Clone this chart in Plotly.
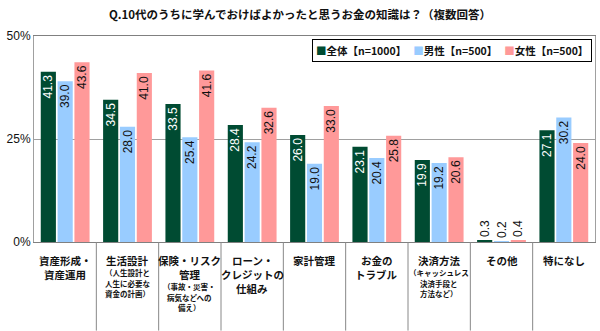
import plotly.graph_objects as go

# each category label: list of (line text, is_sub)
category_lines = [
    [("資産形成・", False), ("資産運用", False)],
    [("生活設計", False), ("（人生設計と", True), ("人生に必要な", True), ("資金の計画）", True)],
    [("保険・リスク", False), ("管理", False), ("（事故・災害・", True), ("病気などへの", True), ("備え）", True)],
    [("ローン・", False), ("クレジットの", False), ("仕組み", False)],
    [("家計管理", False)],
    [("お金の", False), ("トラブル", False)],
    [("決済方法", False), ("（キャッシュレス", True), ("決済手段と", True), ("方法など）", True)],
    [("その他", False)],
    [("特になし", False)],
]
series_names = ["全体【n=1000】", "男性【n=500】", "女性【n=500】"]
total = [41.3, 34.5, 33.5, 28.4, 26.0, 23.1, 19.9, 0.3, 27.1]
male = [39.0, 28.0, 25.4, 24.2, 19.0, 20.4, 19.2, 0.2, 30.2]
female = [43.6, 41.0, 41.6, 32.6, 33.0, 25.8, 20.6, 0.4, 24.0]
colors = ["#004B32", "#99CCFF", "#FF9999"]
inside_colors = ["white", "#111111", "#111111"]

n_cat = len(category_lines)
x = list(range(n_cat))
fig = go.Figure()
for name, vals, c, ic in zip(series_names, [total, male, female], colors, inside_colors):
    fig.add_trace(go.Bar(
        x=x, y=vals, name=name, marker=dict(color=c, line=dict(width=0)),
        text=[f"{v:.1f}" for v in vals],
        textposition=["inside" if v > 5 else "outside" for v in vals],
        insidetextanchor="end", textangle=-90,
        insidetextfont=dict(color=ic, size=12, family="Liberation Sans"),
        outsidetextfont=dict(color="#111111", size=12, family="Liberation Sans"),
        cliponaxis=False, showlegend=False,
    ))

shapes = []
for i in range(n_cat - 1):
    shapes.append(dict(type="line", xref="x", yref="paper", x0=i + 0.5, x1=i + 0.5,
                       y0=0, y1=-0.43, line=dict(color="#888888", width=1)))

annotations = []
for i, lines in enumerate(category_lines):
    offset = 10
    for text, sub in lines:
        size = 7.5 if sub else 10.5
        step = 10.5 if sub else 14
        annotations.append(dict(text=f"<b>{text}</b>", xref="x", yref="paper", x=i, y=0,
                                xanchor="center", yanchor="top", yshift=-offset,
                                showarrow=False, borderpad=0,
                                font=dict(size=size, family="Noto Sans CJK JP", color="#111111")))
        offset += step

legend_text = "&nbsp;&nbsp;&nbsp;".join(
    f"<span style='color:{c}'>■</span><b>{n}</b>" for n, c in zip(series_names, colors))
annotations.append(dict(text=legend_text, xref="paper", yref="paper", x=0.745, y=0.932,
                        xanchor="center", yanchor="middle", showarrow=False,
                        bordercolor="#000000", borderwidth=1, bgcolor="white",
                        borderpad=3, font=dict(size=10.5, family="Noto Sans CJK JP")))

fig.update_layout(
    width=600, height=331,
    margin=dict(l=34, r=5, t=36, b=89),
    paper_bgcolor="white", plot_bgcolor="white",
    font=dict(family="Noto Sans CJK JP, Liberation Sans", color="#111111"),
    title=dict(text="<b>Q.10代のうちに学んでおけばよかったと思うお金の知識は？（複数回答）</b>",
               x=0.5, xanchor="center", y=0.955, yanchor="middle",
               font=dict(size=11.5)),
    barmode="group", bargap=0.19, bargroupgap=0.1,
    uniformtext=dict(minsize=11, mode="show"),
    showlegend=False,
    shapes=shapes,
    annotations=annotations,
)
fig.update_xaxes(tickmode="array", tickvals=x, showticklabels=False,
                 range=[-0.5, n_cat - 0.5], showline=True, linecolor="#808080",
                 mirror=True, ticks="")
fig.update_yaxes(range=[0, 50], tickvals=[0, 25, 50], ticktext=["0%", "25%", "50%"],
                 showgrid=True, gridcolor="#A0A0A0", gridwidth=1, showline=True,
                 linecolor="#A0A0A0", mirror=True, zeroline=False,
                 tickfont=dict(size=12, family="Liberation Sans"))

fig.write_html("out.html")
